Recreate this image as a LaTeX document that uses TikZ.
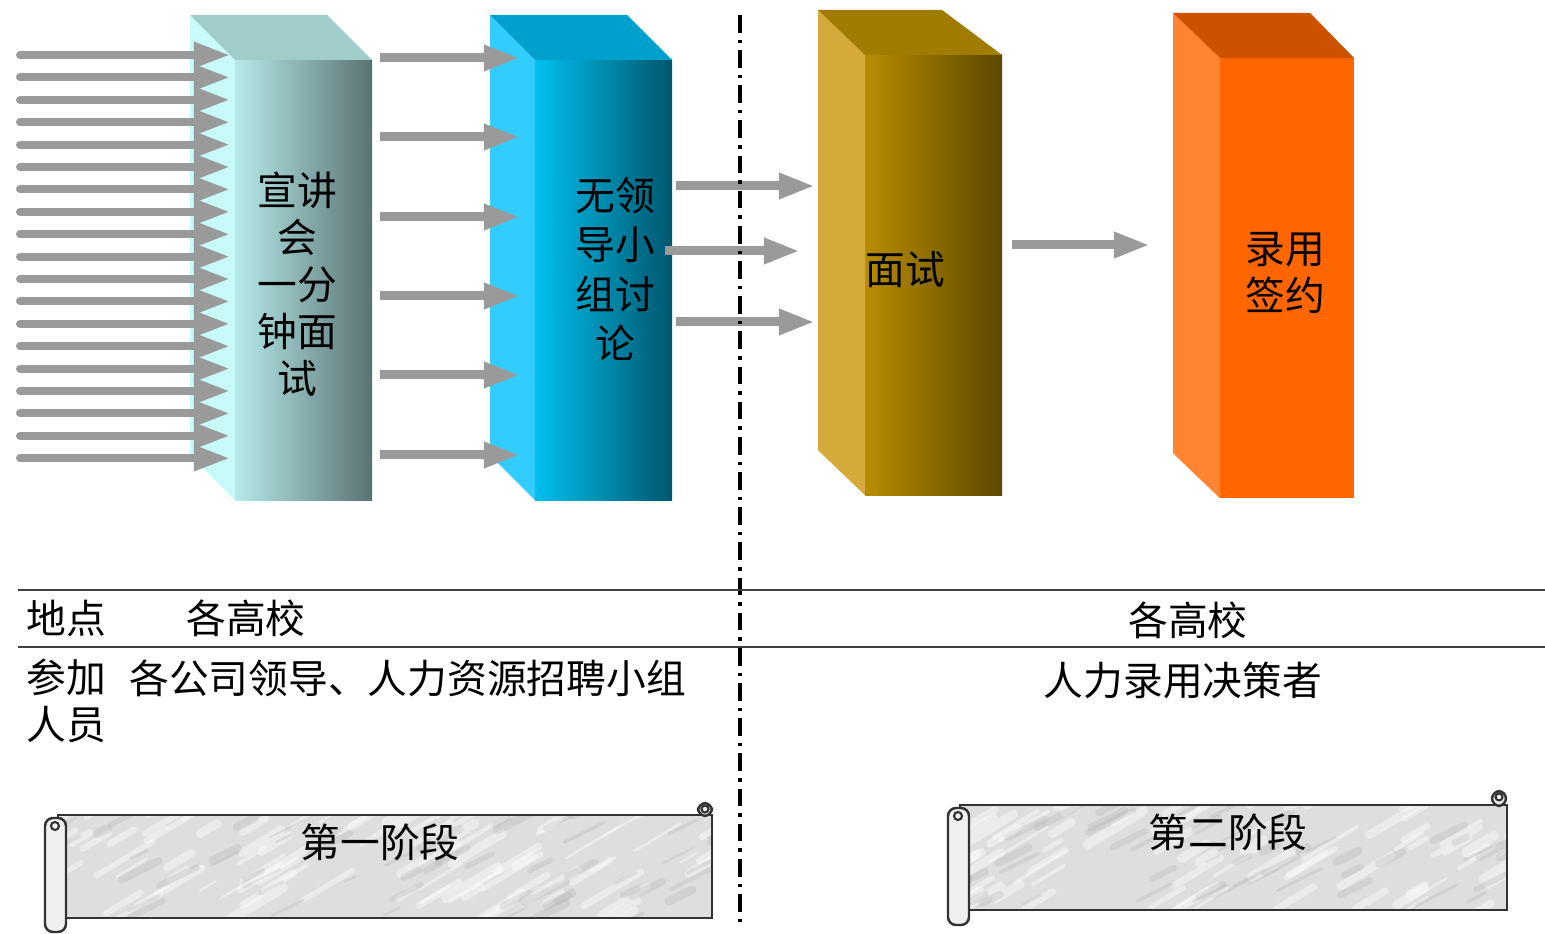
\documentclass[tikz,border=0pt]{standalone}
\usepackage{fontspec}
\newfontfamily\cjk{Noto Sans CJK SC}
\usetikzlibrary{arrows.meta,calc}

\definecolor{arrowgray}{HTML}{9A9A9A}
\definecolor{talkside}{HTML}{C8FAFA}
\definecolor{talktop}{HTML}{A0CCCA}
\definecolor{talkL}{HTML}{B6EAEA}
\definecolor{talkR}{HTML}{5A7272}
\definecolor{groupside}{HTML}{33CCFF}
\definecolor{grouptop}{HTML}{00A0CC}
\definecolor{groupL}{HTML}{00C0EE}
\definecolor{groupR}{HTML}{00566E}
\definecolor{viewside}{HTML}{D4AB3A}
\definecolor{viewtop}{HTML}{A07C00}
\definecolor{viewL}{HTML}{B88C00}
\definecolor{viewR}{HTML}{5E4800}
\definecolor{offerside}{HTML}{FF8533}
\definecolor{offertop}{HTML}{CC5200}
\definecolor{offerfront}{HTML}{FF6600}
\definecolor{marble}{HTML}{DEDEDE}

\begin{document}
\begin{tikzpicture}[x=0.01cm,y=-0.01cm,
	font=\cjk\fontsize{11.3}{13.4}\selectfont,
	flow/.style={draw=arrowgray, line width=0.09cm, -{Triangle[length=0.36cm,width=0.24cm]}},
	feed/.style={flow, line width=0.08cm, line cap=round},
	face/.style={inner sep=0pt, outer sep=0pt, minimum width=1.37cm, minimum height=4.4cm, anchor=north west},
	rule/.style={draw=black!75, line width=0.8pt},
	divider/.style={line width=1.1pt, dash pattern=on 5pt off 2pt on 1pt off 2pt},
	scrollbody/.style={draw=black!80, line width=0.7pt},
	roll/.style={draw=black!80, line width=0.7pt, fill=gray!12, rounded corners=0.08cm},
	streak/.style={white, opacity=.4, line cap=round},
	vein/.style={gray!70, opacity=.22, line cap=round}]
	
	\useasboundingbox (0,0) rectangle (1545,934);
	
	%----------------------------
	% Pillars
	%----------------------------
	% presentation + one minute interview
	\node[face, left color=talkL, right color=talkR] (talk) at (235,60) {};
	\fill[talkside] (talk.north west) -- ++(-45,-45) -- ($(talk.south west)+(-45,-45)$) -- (talk.south west) -- cycle;
	\fill[talktop] (talk.north west) -- ++(-45,-45) -- ($(talk.north east)+(-45,-45)$) -- (talk.north east) -- cycle;
	\node[align=center] (talktxt) at (297,284) {宣讲\\会\\一分\\钟面\\试};
	
	% leaderless group discussion
	\node[face, left color=groupL, right color=groupR] (group) at (535,60) {};
	\fill[groupside] (group.north west) -- ++(-45,-45) -- ($(group.south west)+(-45,-45)$) -- (group.south west) -- cycle;
	\fill[grouptop] (group.north west) -- ++(-45,-45) -- ($(group.north east)+(-45,-45)$) -- (group.north east) -- cycle;
	\node[align=center, font=\cjk\fontsize{11.3}{14}\selectfont] (grouptxt) at (615,269) {无领\\导小\\组讨\\论};
	
	% interview
	\node[face, left color=viewL, right color=viewR] (view) at (865,55) {};
	\fill[viewside] (view.north west) -- ++(-47,-45) -- ($(view.south west)+(-47,-45)$) -- (view.south west) -- cycle;
	\fill[viewtop] (view.north west) -- ++(-47,-45) -- ($(view.north east)+(-60,-45)$) -- (view.north east) -- cycle;
	\node (viewtxt) at (905,270) {面试};
	
	% offer and contract
	\node[face, minimum width=1.34cm, fill=offerfront] (offer) at (1220,58) {};
	\fill[offerside] (offer.north west) -- ++(-47,-45) -- ($(offer.south west)+(-47,-45)$) -- (offer.south west) -- cycle;
	\fill[offertop] (offer.north west) -- ++(-47,-45) -- ($(offer.north east)+(-44,-45)$) -- (offer.north east) -- cycle;
	\node[align=center] (offertxt) at (1285,273) {录用\\签约};
	
	%----------------------------
	% Arrows
	%----------------------------
	% candidates into the talks
	\foreach \k in {0,...,18}{
		\pgfmathsetmacro\y{55+22.4*\k}
		\coordinate (in\k) at (20,\y);
		\draw[feed, shorten >=0.05cm] (in\k) -- (in\k -| talk.west);
	}
	
	% talks -> group discussion
	\foreach \y in {58,137,217,296,375,455}{
		\coordinate (mid\y) at (0,\y);
		\draw[flow, shorten <=0.08cm, shorten >=0.15cm] (mid\y -| talk.east) -- (mid\y -| group.west);
	}
	
	% group discussion -> interview
	\coordinate (go1) at (0,186);
	\coordinate (go2) at (0,251);
	\coordinate (go3) at (0,322);
	\draw[flow, shorten <=0.04cm, shorten >=0.5cm] (go1 -| group.east) -- (go1 -| view.west);
	\draw[flow, shorten <=-0.07cm, shorten >=0.65cm] (go2 -| group.east) -- (go2 -| view.west);
	\draw[flow, shorten <=0.04cm, shorten >=0.5cm] (go3 -| group.east) -- (go3 -| view.west);
	
	% interview -> offer
	\coordinate (vo) at (0,245);
	\draw[flow, shorten <=0.1cm, shorten >=0.7cm] (vo -| view.east) -- (vo -| offer.west);
	
	%----------------------------
	% Stage divider and table
	%----------------------------
	\draw[divider] (740,15) -- (740,928);
	
	\draw[rule] (18,590) -- (1545,590);
	\draw[rule] (18,647) -- (1545,647);
	
	\node[anchor=west] (place) at (14,618) {地点};
	\node[anchor=west] (place1) at (174,618) {各高校};
	\node (place2) at (1188,620) {各高校};
	
	\node[anchor=west, align=left] (staff) at (14,701) {参加\\人员};
	\node[anchor=west] (staff1) at (117,678) {各公司领导、人力资源招聘小组};
	\node (staff2) at (1183,680) {人力录用决策者};
	
	%----------------------------
	% Scroll: first stage
	%----------------------------
	\fill[marble] (58,815) rectangle (712,918);
	\begin{scope}
		\clip (58,815) rectangle (712,918);
		\pgfmathsetseed{11}
		\foreach \i in {1,...,90}{
			\pgfmathsetmacro\sx{30+rnd*690}
			\pgfmathsetmacro\sy{810+rnd*115}
			\pgfmathsetmacro\sl{15+rnd*45}
			\pgfmathsetmacro\sw{0.6+rnd*2.4}
			\draw[streak, line width=\sw pt] (\sx,\sy) -- ++(\sl,-0.6*\sl);
		}
		\foreach \i in {1,...,60}{
			\pgfmathsetmacro\sx{30+rnd*690}
			\pgfmathsetmacro\sy{810+rnd*115}
			\pgfmathsetmacro\sl{10+rnd*35}
			\pgfmathsetmacro\sw{0.5+rnd*2}
			\draw[vein, line width=\sw pt] (\sx,\sy) -- ++(\sl,-0.5*\sl);
		}
	\end{scope}
	\draw[scrollbody] (58,815) rectangle (712,918);
	\draw[roll] (698,803) rectangle (712,816);
	\draw[black!80, line width=0.6pt] (705,809) circle (0.035cm);
	\draw[roll] (45,818) rectangle (66,932);
	\draw[black!80, line width=0.6pt] (55,826) circle (0.04cm);
	\node (stage1) at (380,842) {第一阶段};
	
	%----------------------------
	% Scroll: second stage
	%----------------------------
	\fill[marble] (960,805) rectangle (1507,910);
	\begin{scope}
		\clip (960,805) rectangle (1507,910);
		\pgfmathsetseed{23}
		\foreach \i in {1,...,75}{
			\pgfmathsetmacro\sx{930+rnd*580}
			\pgfmathsetmacro\sy{800+rnd*115}
			\pgfmathsetmacro\sl{15+rnd*45}
			\pgfmathsetmacro\sw{0.6+rnd*2.4}
			\draw[streak, line width=\sw pt] (\sx,\sy) -- ++(\sl,-0.6*\sl);
		}
		\foreach \i in {1,...,50}{
			\pgfmathsetmacro\sx{930+rnd*580}
			\pgfmathsetmacro\sy{800+rnd*115}
			\pgfmathsetmacro\sl{10+rnd*35}
			\pgfmathsetmacro\sw{0.5+rnd*2}
			\draw[vein, line width=\sw pt] (\sx,\sy) -- ++(\sl,-0.5*\sl);
		}
	\end{scope}
	\draw[scrollbody] (960,805) rectangle (1507,910);
	\draw[roll] (1492,791) rectangle (1506,806);
	\draw[black!80, line width=0.6pt] (1499,797) circle (0.035cm);
	\draw[roll] (948,808) rectangle (969,925);
	\draw[black!80, line width=0.6pt] (958,816) circle (0.04cm);
	\node (stage2) at (1228,832) {第二阶段};
	
\end{tikzpicture}
\end{document}
